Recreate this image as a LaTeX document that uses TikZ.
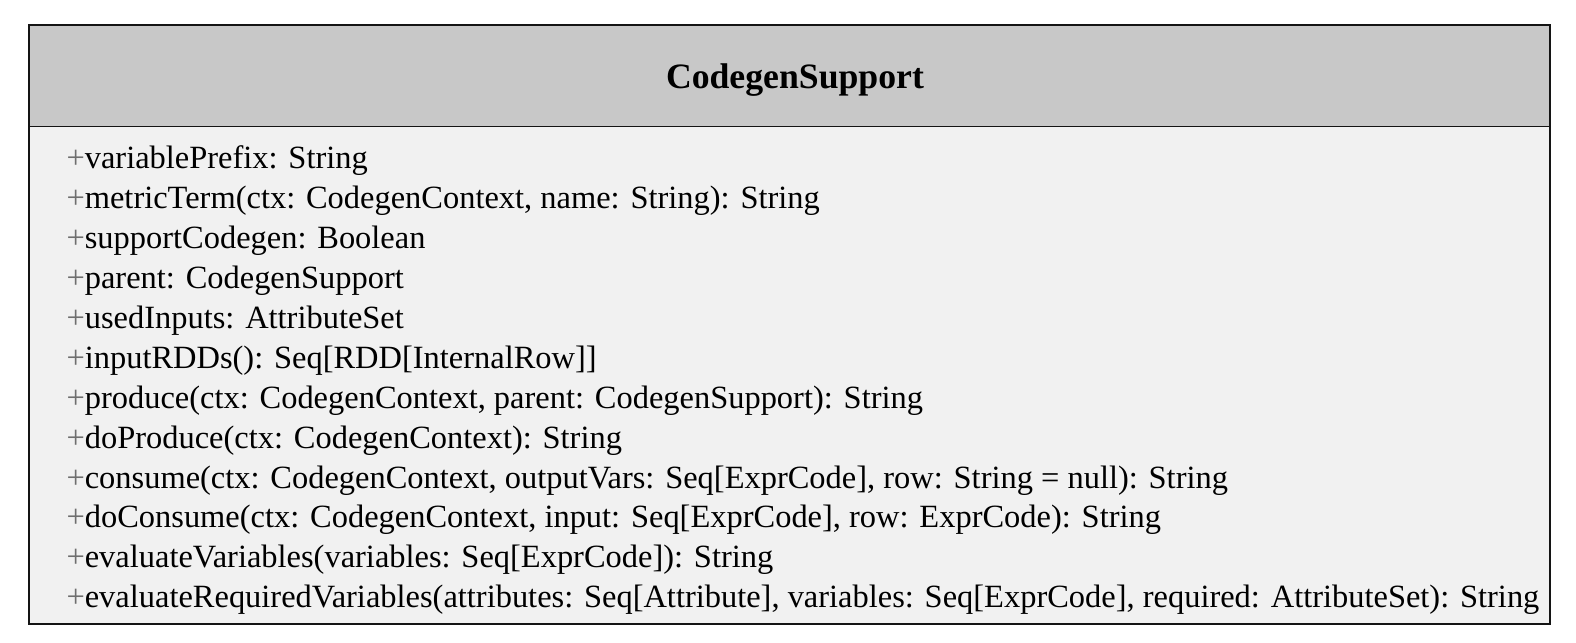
\documentclass[tikz,border=0pt]{standalone}
\usepackage{fontspec}
\setmainfont{Liberation Serif}
\usetikzlibrary{positioning}
\definecolor{headGray}{RGB}{200, 200, 200}
\definecolor{bodyGray}{RGB}{241, 241, 241}
\definecolor{lineBlack}{RGB}{20, 20, 20}
\definecolor{plusGray}{RGB}{110, 110, 110}
\newcommand{\pub}{{\color{plusGray}+}}
\tikzset{
    classHead/.style={
        fill=headGray,
        draw=lineBlack,
        line width=1.6bp
    },
    classBody/.style={
        fill=bodyGray,
        draw=lineBlack,
        line width=1.6bp
    },
    className/.style={
        font=\bfseries\fontsize{35.7bp}{40bp}\selectfont,
        inner sep=0pt,
        anchor=base
    },
    member/.style={
        font=\fontsize{32.45bp}{36bp}\selectfont,
        inner sep=0pt,
        anchor=base west
    }
}
\begin{document}
\begin{tikzpicture}[x=1bp, y=-1bp]
    \useasboundingbox (0,0) rectangle (1576,643);
    \fill[white] (0,0) rectangle (1576,643);

    \begin{scope}[scale=1.005]
    % Class box
    \draw[classBody] (29,126) rectangle (1542,621);
    \draw[classHead] (29,25) rectangle (1542,126);
    \node[className] (title) at (791,88) {CodegenSupport};

    % Members
    \foreach \txt [count=\i from 0] in {
        {variablePrefix: String},
        {metricTerm(ctx: CodegenContext, name: String): String},
        {supportCodegen: Boolean},
        {parent: CodegenSupport},
        {usedInputs: AttributeSet},
        {inputRDDs(): Seq[RDD[InternalRow]]},
        {produce(ctx: CodegenContext, parent: CodegenSupport): String},
        {doProduce(ctx: CodegenContext): String},
        {consume(ctx: CodegenContext, outputVars: Seq[ExprCode], row: String = null): String},
        {doConsume(ctx: CodegenContext, input: Seq[ExprCode], row: ExprCode): String},
        {evaluateVariables(variables: Seq[ExprCode]): String},
        {evaluateRequiredVariables(attributes: Seq[Attribute], variables: Seq[ExprCode], required: AttributeSet): String}
    } {
        \node[member] (m\i) at (66, 168+39.7*\i) {\pub\txt};
    }
    \end{scope}
\end{tikzpicture}
\end{document}
